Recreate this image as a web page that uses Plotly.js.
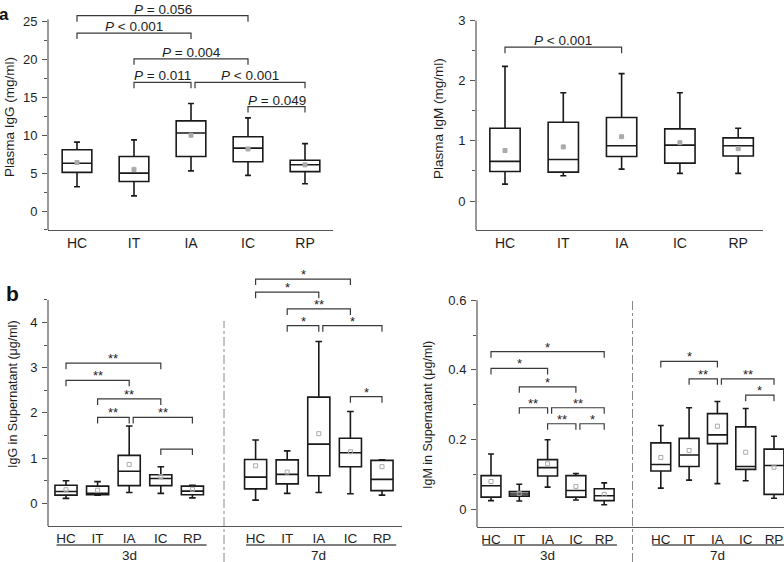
<!DOCTYPE html>
<html>
<head>
<meta charset="utf-8">
<script src="https://cdn.plot.ly/plotly-3.0.1.min.js"></script>
<style>
html, body { margin: 0; padding: 0; background: #fff; }
#chart { width: 784px; height: 562px; }
</style>
</head>
<body>
<div id="chart"></div>
<script>
let groups = ['HC', 'IT', 'IA', 'IC', 'RP'];
let days = ['3d', '7d'];

// a, plasma IgG (mg/ml)
let pIggLow  = [3.2, 2.0, 5.3, 4.7, 3.6];
let pIggQ1   = [5.1, 3.9, 7.2, 6.5, 5.2];
let pIggMed  = [6.3, 5.0, 10.3, 8.3, 6.1];
let pIggQ3   = [8.1, 7.2, 11.9, 9.8, 6.7];
let pIggHigh = [9.1, 9.4, 14.2, 12.3, 8.9];
let pIggMean = [6.4, 5.5, 10.0, 8.2, 6.1];
let pIggPairs = [['HC', 'IC'], ['HC', 'IA'], ['IT', 'IC'], ['IT', 'IA'], ['IA', 'RP'], ['IC', 'RP']];
let pIggTops  = [25.8, 23.5, 20.1, 17.0, 17.0, 13.8];
let pIggText  = ['<i>P</i> = 0.056', '<i>P</i> &lt; 0.001', '<i>P</i> = 0.004',
                 '<i>P</i> = 0.011', '<i>P</i> &lt; 0.001', '<i>P</i> = 0.049'];

// a, plasma IgM (mg/ml)
let pIgmLow  = [0.28, 0.42, 0.53, 0.46, 0.46];
let pIgmQ1   = [0.49, 0.48, 0.74, 0.63, 0.75];
let pIgmMed  = [0.66, 0.69, 0.92, 0.93, 0.92];
let pIgmQ3   = [1.21, 1.31, 1.39, 1.20, 1.05];
let pIgmHigh = [2.24, 1.80, 2.12, 1.80, 1.21];
let pIgmMean = [0.84, 0.90, 1.07, 0.97, 0.87];
let pIgmPairs = [['HC', 'IA']];
let pIgmTops  = [2.56];
let pIgmText  = ['<i>P</i> &lt; 0.001'];

// b, IgG in supernatant (ug/ml); 3d HC..RP then 7d HC..RP
let sIggLow  = [0.11, 0.18, 0.24, 0.22, 0.12,  0.07, 0.22, 0.24, 0.21, 0.18];
let sIggQ1   = [0.18, 0.19, 0.39, 0.39, 0.19,  0.32, 0.43, 0.61, 0.81, 0.28];
let sIggMed  = [0.26, 0.22, 0.71, 0.55, 0.27,  0.58, 0.64, 1.31, 1.12, 0.53];
let sIggQ3   = [0.40, 0.38, 1.06, 0.63, 0.38,  0.97, 0.96, 2.35, 1.44, 0.95];
let sIggHigh = [0.50, 0.48, 1.71, 0.81, 0.40,  1.40, 1.16, 3.58, 2.03, 0.96];
let sIggMean = [0.30, 0.29, 0.86, 0.59, 0.31,  0.83, 0.69, 1.54, 1.14, 0.81];
let sIggPairs = [['3d', 'HC', 'IC'], ['3d', 'HC', 'IA'], ['3d', 'IT', 'IC'], ['3d', 'IT', 'IA'],
                 ['3d', 'IA', 'RP'], ['3d', 'IC', 'RP'],
                 ['7d', 'HC', 'IC'], ['7d', 'HC', 'IA'], ['7d', 'IT', 'IC'], ['7d', 'IT', 'IA'],
                 ['7d', 'IA', 'RP'], ['7d', 'IC', 'RP']];
let sIggTops = [3.10, 2.72, 2.31, 1.90, 1.90, 1.20, 4.96, 4.67, 4.30, 3.93, 3.93, 2.36];
let sIggText = ['**', '**', '**', '**', '**', '', '*', '*', '**', '*', '*', '*'];

// b, IgM in supernatant (ug/ml)
let sIgmLow  = [0.024, 0.023, 0.063, 0.026, 0.012,  0.060, 0.083, 0.073, 0.081, 0.031];
let sIgmQ1   = [0.034, 0.037, 0.095, 0.034, 0.024,  0.109, 0.122, 0.188, 0.114, 0.042];
let sIgmMed  = [0.067, 0.043, 0.119, 0.053, 0.038,  0.128, 0.155, 0.213, 0.122, 0.125];
let sIgmQ3   = [0.096, 0.050, 0.142, 0.096, 0.058,  0.190, 0.203, 0.274, 0.236, 0.172];
let sIgmHigh = [0.158, 0.071, 0.199, 0.102, 0.075,  0.240, 0.291, 0.309, 0.289, 0.209];
let sIgmMean = [0.079, 0.045, 0.130, 0.065, 0.042,  0.148, 0.168, 0.238, 0.163, 0.120];
let sIgmPairs = [['3d', 'HC', 'RP'], ['3d', 'HC', 'IA'], ['3d', 'IT', 'IC'], ['3d', 'IT', 'IA'],
                 ['3d', 'IA', 'RP'], ['3d', 'IA', 'IC'], ['3d', 'IC', 'RP'],
                 ['7d', 'HC', 'IA'], ['7d', 'IT', 'IA'], ['7d', 'IA', 'RP'], ['7d', 'IC', 'RP']];
let sIgmTops = [0.452, 0.404, 0.351, 0.291, 0.291, 0.245, 0.245, 0.424, 0.374, 0.374, 0.327];
let sIgmText = ['*', '*', '*', '**', '**', '**', '*', '*', '**', '**', '*'];

let W = 784, H = 562;
let ink = '#1e1e1e', axisCol = '#555';
let font = 'Arial, "Liberation Sans", sans-serif';

let traces = [];
let shapes = [];
let notes = [];
let layout = {
  width: W, height: H,
  margin: {l: 0, r: 0, t: 0, b: 0},
  paper_bgcolor: '#fff', plot_bgcolor: '#fff',
  showlegend: false,
  font: {family: font, color: ink},
  boxmode: 'overlay'
};

let pos = function(g, d) {
  return (d ? days.indexOf(d) * 6 : 0) + groups.indexOf(g);
};

let panel = function(k, fr, st, look) {
  let sfx = k > 1 ? String(k) : '';
  let xa = 'x' + sfx, ya = 'y' + sfx;
  let xr = [(fr.left - fr.x0) / fr.xs, (fr.right - fr.x0) / fr.xs];
  let yr = [(fr.y0 - fr.bottom) / fr.ys, (fr.y0 - fr.top) / fr.ys];

  layout['xaxis' + sfx] = {
    domain: [fr.left / W, fr.right / W], range: xr, anchor: ya,
    showline: true, linecolor: axisCol, linewidth: 1.2,
    ticks: '', tickvals: st.x, ticktext: st.labels,
    tickfont: {size: look.xfont, color: ink},
    showgrid: false, zeroline: false
  };
  layout['yaxis' + sfx] = {
    domain: [1 - fr.bottom / H, 1 - fr.top / H], range: yr, anchor: xa,
    showline: false, showgrid: false, zeroline: false,
    tickvals: look.yticks, ticks: 'outside', ticklen: 5, tickwidth: 1, tickcolor: axisCol,
    ticklabelstandoff: 2,
    minor: {tickvals: look.yminor, ticks: 'outside', ticklen: 3, tickwidth: 1, tickcolor: axisCol},
    tickfont: {size: 13, color: ink}
  };
  // y axis line stops at the top tick, brackets sit above it
  shapes.push({type: 'line', xref: xa + ' domain', yref: ya, x0: 0, x1: 0, y0: yr[0], y1: look.ytop,
    line: {color: axisCol, width: 1.2}});

  traces.push({
    type: 'box', orientation: 'v', xaxis: xa, yaxis: ya,
    x: st.x, q1: st.q1, median: st.med, q3: st.q3, lowerfence: st.low, upperfence: st.high,
    width: look.boxw, whiskerwidth: look.whisk, boxpoints: false,
    line: {color: '#1a1a1a', width: 1.6}, fillcolor: 'rgba(0,0,0,0)', hoverinfo: 'skip'
  });
  traces.push({
    type: 'scatter', mode: 'markers', xaxis: xa, yaxis: ya,
    x: st.x, y: st.mean,
    marker: {symbol: look.msym, size: look.msize, color: '#aaa', line: {width: 1, color: '#aaa'}},
    hoverinfo: 'skip'
  });

  // significance brackets
  let arm = 6 / fr.ys, gap = 4 / fr.xs;
  let ends = st.pairs.map(p => p.length === 3 ? [pos(p[1], p[0]), pos(p[2], p[0])] : [pos(p[0]), pos(p[1])]);
  ends.forEach((e, i) => {
    let a = e[0], b = e[1], t = st.tops[i];
    let shared = ends.some((f, j) => j !== i && st.tops[j] === t && f[1] === a);
    if (shared) a += gap;
    shapes.push({type: 'path', xref: xa, yref: ya,
      path: 'M' + a + ',' + (t - arm) + ' L' + a + ',' + t + ' L' + b + ',' + t + ' L' + b + ',' + (t - arm),
      line: {color: '#3a3a3a', width: 1.2}});
    if (st.text[i]) {
      notes.push({xref: xa, yref: ya, x: (a + b) / 2, y: t, text: st.text[i], showarrow: false,
        xanchor: 'center', yanchor: 'bottom', yshift: look.pshift,
        font: {size: look.pfont, color: ink}});
    }
  });
};

let aLook = {xfont: 14, pfont: 13.5, pshift: -3, boxw: 0.52, whisk: 0.2, msym: 'square', msize: 4};
let bLook = {xfont: 13.5, pfont: 13, pshift: -5, boxw: 0.7, whisk: 0.3, msym: 'square-open', msize: 4};

let pos5 = groups.map(g => pos(g));
let pos10 = days.flatMap(d => groups.map(g => pos(g, d)));

panel(1, {left: 48, right: 333, top: 8, bottom: 230, x0: 77, xs: 57, y0: 211, ys: 7.57},
  {x: pos5, labels: groups, low: pIggLow, q1: pIggQ1, med: pIggMed, q3: pIggQ3, high: pIggHigh,
   mean: pIggMean, pairs: pIggPairs, tops: pIggTops, text: pIggText},
  Object.assign({yticks: [0, 5, 10, 15, 20, 25], yminor: [-2.5, 2.5, 7.5, 12.5, 17.5, 22.5], ytop: 25.3}, aLook));

panel(2, {left: 476, right: 763, top: 18, bottom: 230, x0: 505, xs: 58.3, y0: 201, ys: 60.1},
  {x: pos5, labels: groups, low: pIgmLow, q1: pIgmQ1, med: pIgmMed, q3: pIgmQ3, high: pIgmHigh,
   mean: pIgmMean, pairs: pIgmPairs, tops: pIgmTops, text: pIgmText},
  Object.assign({yticks: [0, 1, 2, 3], yminor: [-0.5, 0.5, 1.5, 2.5], ytop: 3.0}, aLook));

panel(3, {left: 48, right: 402, top: 272, bottom: 526, x0: 66, xs: 31.6, y0: 503.3, ys: 45.2},
  {x: pos10, labels: groups.concat(groups), low: sIggLow, q1: sIggQ1, med: sIggMed, q3: sIggQ3,
   high: sIggHigh, mean: sIggMean, pairs: sIggPairs, tops: sIggTops, text: sIggText},
  Object.assign({yticks: [0, 1, 2, 3, 4], yminor: [0.5, 1.5, 2.5, 3.5, 4.5], ytop: 4.5}, bLook));

panel(4, {left: 477, right: 784, top: 298, bottom: 527, x0: 491, xs: 28.3, y0: 509, ys: 348},
  {x: pos10, labels: groups.concat(groups), low: sIgmLow, q1: sIgmQ1, med: sIgmMed, q3: sIgmQ3,
   high: sIgmHigh, mean: sIgmMean, pairs: sIgmPairs, tops: sIgmTops, text: sIgmText},
  Object.assign({yticks: [0, 0.2, 0.4, 0.6], yminor: [0.1, 0.3, 0.5], ytop: 0.6}, bLook));

// day underlines, day labels and the dashed divider in panel b
[['x3', 321], ['x4', 298]].forEach(([xa, topPx]) => {
  days.forEach((d, i) => {
    shapes.push({type: 'line', xref: xa, yref: 'paper', x0: i * 6 - 0.3, x1: i * 6 + 4.45,
      y0: 1 - 545 / H, y1: 1 - 545 / H, line: {color: axisCol, width: 1.3}});
    notes.push({xref: xa, yref: 'paper', x: i * 6 + 2, y: 1 - 555 / H, text: d, showarrow: false,
      xanchor: 'center', yanchor: 'middle', font: {size: 13.5, color: ink}});
  });
  shapes.push({type: 'line', xref: xa, yref: 'paper', x0: 5, x1: 5, y0: 0, y1: 1 - topPx / H,
    line: {color: '#888', width: 1, dash: 'dashdot'}});
});

// axis titles and panel letters
let titles = [
  ['Plasma IgG (mg/ml)', 9, 117, 13.5],
  ['Plasma IgM (mg/ml)', 438, 119, 13.5],
  ['IgG in Supernatant (μg/ml)', 13, 394, 12.5],
  ['IgM in Supernatant (μg/ml)', 428, 415, 12.5]
];
titles.forEach(t => {
  notes.push({xref: 'paper', yref: 'paper', x: t[1] / W, y: 1 - t[2] / H, text: t[0], textangle: -90,
    showarrow: false, xanchor: 'center', yanchor: 'middle', font: {size: t[3], color: ink}});
});
notes.push({xref: 'paper', yref: 'paper', x: 4 / W, y: 1 - 15 / H, text: '<b>a</b>', showarrow: false,
  xanchor: 'center', yanchor: 'middle', font: {size: 17, color: '#111'}});
notes.push({xref: 'paper', yref: 'paper', x: 12 / W, y: 1 - 293 / H, text: '<b>b</b>', showarrow: false,
  xanchor: 'center', yanchor: 'middle', font: {size: 21, color: '#111'}});

layout.shapes = shapes;
layout.annotations = notes;

Plotly.newPlot('chart', traces, layout, {displayModeBar: false, staticPlot: true});
</script>
</body>
</html>
